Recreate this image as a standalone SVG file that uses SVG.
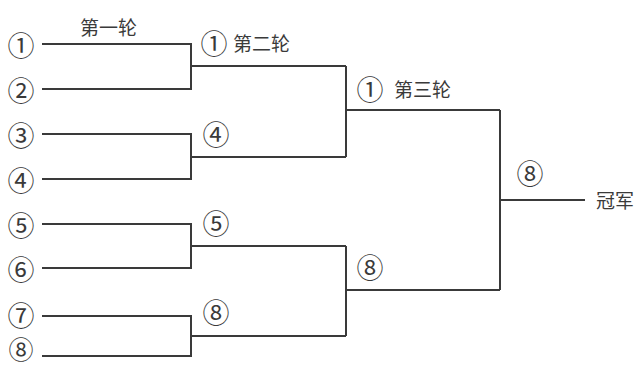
<svg xmlns="http://www.w3.org/2000/svg" width="642" height="367" viewBox="0 0 642 367">
<style>
.t{font-family:"Noto Sans CJK SC","Liberation Serif",serif;font-size:19px;fill:#3a3a3a;dominant-baseline:central}
.c{font-size:27px;text-anchor:middle}
.ln{fill:none;stroke:#3a3a3a;stroke-width:2}
</style>
<rect width="642" height="367" fill="#ffffff"/>
<g id="connectors" class="ln">
<path d="M42 44H191V89H42M191 66H346"/>
<path d="M42 134H191V179H42M191 157H346"/>
<path d="M42 224H191V268H42M191 246H346"/>
<path d="M42 316H191V356H42M191 336H346"/>
<path d="M346 66V157M346 110H500"/>
<path d="M346 246V336M346 290H500"/>
<path d="M500 110V290M500 200H585"/>
</g>
<g id="r1">
<text class="t c" x="21" y="44">①</text>
<text class="t c" x="21" y="89">②</text>
<text class="t c" x="21" y="134">③</text>
<text class="t c" x="21" y="179">④</text>
<text class="t c" x="21" y="224">⑤</text>
<text class="t c" x="21" y="268">⑥</text>
<text class="t c" x="21" y="314">⑦</text>
<text class="t c" x="21" y="348" style="font-size:25px">⑧</text>
</g>
<g id="labels">
<text class="t" x="80" y="26">第一轮</text>
<text class="t c" x="214" y="42">①</text>
<text class="t" x="233" y="42">第二轮</text>
<text class="t c" x="216" y="133">④</text>
<text class="t c" x="216" y="222">⑤</text>
<text class="t c" x="216" y="311">⑧</text>
<text class="t c" x="370" y="88">①</text>
<text class="t" x="394" y="88">第三轮</text>
<text class="t c" x="370" y="266">⑧</text>
<text class="t c" x="530" y="172">⑧</text>
<text class="t" x="596" y="199">冠军</text>
</g>
</svg>
